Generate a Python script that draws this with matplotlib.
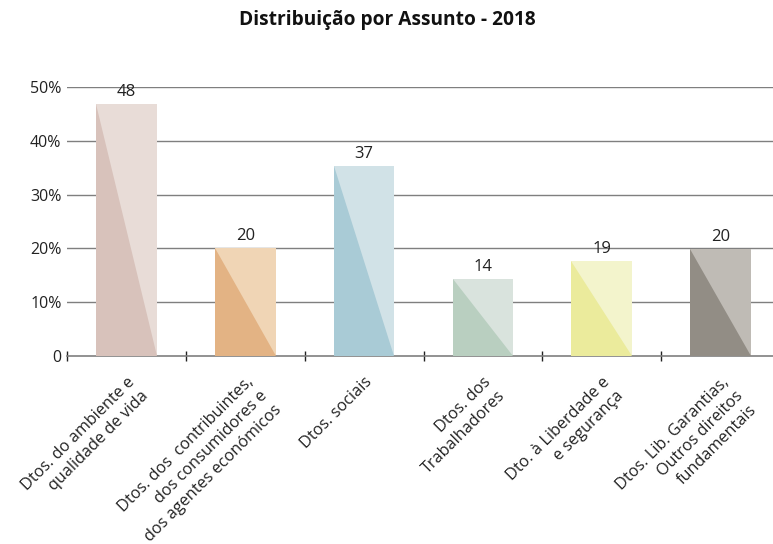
import matplotlib.pyplot as plt
from matplotlib.ticker import FixedLocator

plt.rcParams["font.family"] = ["Open Sans", "DejaVu Sans"]

# Data
categories = [
    "Dtos. do ambiente e\nqualidade de vida",
    "Dtos. dos  contribuintes,\ndos consumidores e\ndos agentes económicos",
    "Dtos. sociais",
    "Dtos. dos\nTrabalhadores",
    "Dto. à Liberdade e\ne segurança",
    "Dtos. Lib. Garantias,\nOutros direitos\nfundamentais",
]
percentages = [46.8, 20.0, 35.3, 14.3, 17.7, 19.9]
counts = [48, 20, 37, 14, 19, 20]
light_colors = ["#e8dcd7", "#f0d5b5", "#d1e2e7", "#d9e3dd", "#f3f4cc", "#bfbbb5"]
dark_colors = ["#d8c2bb", "#e3b384", "#a9cbd6", "#b9cfc0", "#ebeb9c", "#928d85"]
y_ticks = [0, 10, 20, 30, 40, 50]
y_tick_labels = ["0", "10%", "20%", "30%", "40%", "50%"]

fig = plt.figure(figsize=(7.73, 5.44), dpi=100)
ax = fig.add_axes([0.0867, 0.3456, 0.9224, 0.4945])

x = list(range(len(categories)))
bars = ax.bar(x, percentages, width=0.51, color=light_colors, zorder=2)

# darker lower-left triangle in each bar
for rect, dark in zip(bars, dark_colors):
    x0, w, h = rect.get_x(), rect.get_width(), rect.get_height()
    ax.fill([x0, x0, x0 + w], [h, 0, 0], color=dark, lw=0, zorder=3)

# value labels
for rect, c in zip(bars, counts):
    ax.annotate(str(c), (rect.get_x() + rect.get_width() / 2, rect.get_height()),
                xytext=(0, 3), textcoords="offset points", ha="center", va="bottom",
                fontsize=12, color="#222222", zorder=4)

ax.set_xlim(-0.5, len(categories) - 0.5)
ax.set_ylim(0, 50)
ax.set_yticks(y_ticks)
ax.set_yticklabels(y_tick_labels, fontsize=11.5, color="#222222")
ax.tick_params(axis="y", length=0, pad=4)

for yv in y_ticks[1:]:
    ax.axhline(yv, color="#7f7f7f", lw=1, zorder=1)

ax.set_xticks(x)
ax.set_xticklabels(categories, rotation=45, ha="right", va="top",
                   rotation_mode="anchor", multialignment="right",
                   linespacing=1.3, fontsize=11.7, color="#222222")
ax.tick_params(axis="x", which="major", length=0, pad=13)
ax.xaxis.set_minor_locator(FixedLocator([i - 0.5 for i in range(len(categories))]))
ax.tick_params(axis="x", which="minor", direction="inout", length=7, width=1, color="#222222")

for s in ["top", "right", "left"]:
    ax.spines[s].set_visible(False)
ax.spines["bottom"].set_color("#7f7f7f")
ax.spines["bottom"].set_linewidth(1.2)

fig.text(0.5006, 0.963, "Distribuição por Assunto - 2018", ha="center", va="center",
         fontsize=13.8, fontweight="bold", color="#111111")

fig.savefig("out.png", dpi=100)
